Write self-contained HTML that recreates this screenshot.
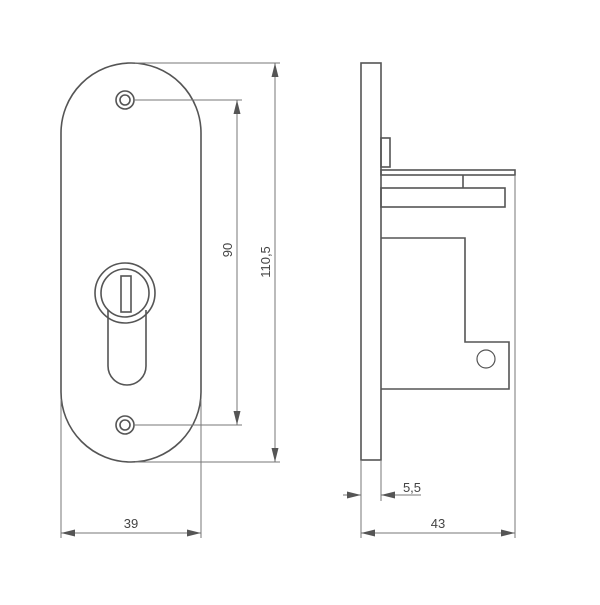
<!DOCTYPE html>
<html><head><style>html,body{margin:0;padding:0;background:#fff}</style></head>
<body>
<svg width="600" height="600" viewBox="0 0 600 600" xmlns="http://www.w3.org/2000/svg">
<defs>
<marker id="a" viewBox="0 0 10 10" refX="10" refY="5" markerWidth="14" markerHeight="7" orient="auto-start-reverse" markerUnits="userSpaceOnUse" preserveAspectRatio="none"><path d="M0,0L10,5L0,10z" fill="#555"/></marker>
</defs>
<g fill="none" stroke="#555" stroke-width="1.6">
<rect x="61" y="63" width="140" height="399" rx="70" ry="70"/>
<circle cx="125" cy="100" r="9"/><circle cx="125" cy="100" r="5"/>
<circle cx="125" cy="425" r="9"/><circle cx="125" cy="425" r="5"/>
<circle cx="125" cy="293" r="30"/>
<circle cx="125" cy="293" r="24"/>
<path d="M108,310 V366 A19,19 0 0 0 146,366 V310"/>
<rect x="121" y="276" width="10" height="36"/>
<rect x="361" y="63" width="20" height="397"/>
<rect x="381" y="138" width="9" height="29"/>
<rect x="381" y="170" width="134" height="5"/>
<path d="M463,175 V188"/>
<rect x="381" y="188" width="124" height="19"/>
<path d="M381,238 H465 V342 H509 V389 H381"/>
<circle cx="486" cy="359" r="9" stroke-width="1.2"/>
</g>
<g stroke="#777" stroke-width="1" fill="none">
<line x1="135" y1="63" x2="280" y2="63"/>
<line x1="135" y1="462" x2="280" y2="462"/>
<line x1="134" y1="100" x2="242" y2="100"/>
<line x1="134" y1="425" x2="242" y2="425"/>
<line x1="237" y1="100" x2="237" y2="425" marker-start="url(#a)" marker-end="url(#a)"/>
<line x1="275" y1="63" x2="275" y2="462" marker-start="url(#a)" marker-end="url(#a)"/>
<line x1="61" y1="400" x2="61" y2="538"/>
<line x1="201" y1="400" x2="201" y2="538"/>
<line x1="61" y1="533" x2="201" y2="533" marker-start="url(#a)" marker-end="url(#a)"/>
<line x1="361" y1="460" x2="361" y2="538"/>
<line x1="381" y1="460" x2="381" y2="501"/>
<line x1="515" y1="175" x2="515" y2="538"/>
<line x1="361" y1="533" x2="515" y2="533" marker-start="url(#a)" marker-end="url(#a)"/>
<line x1="343" y1="495" x2="361" y2="495" marker-end="url(#a)"/>
<line x1="421" y1="495" x2="381" y2="495" marker-end="url(#a)"/>
</g>
<g font-family="Liberation Sans, sans-serif" font-size="13" fill="#444">
<text x="131" y="528" text-anchor="middle">39</text>
<text x="438" y="528" text-anchor="middle">43</text>
<text x="412" y="492" text-anchor="middle">5,5</text>
<text transform="translate(232,250) rotate(-90)" text-anchor="middle">90</text>
<text transform="translate(270,262) rotate(-90)" text-anchor="middle">110,5</text>
</g>
</svg>
</body></html>
